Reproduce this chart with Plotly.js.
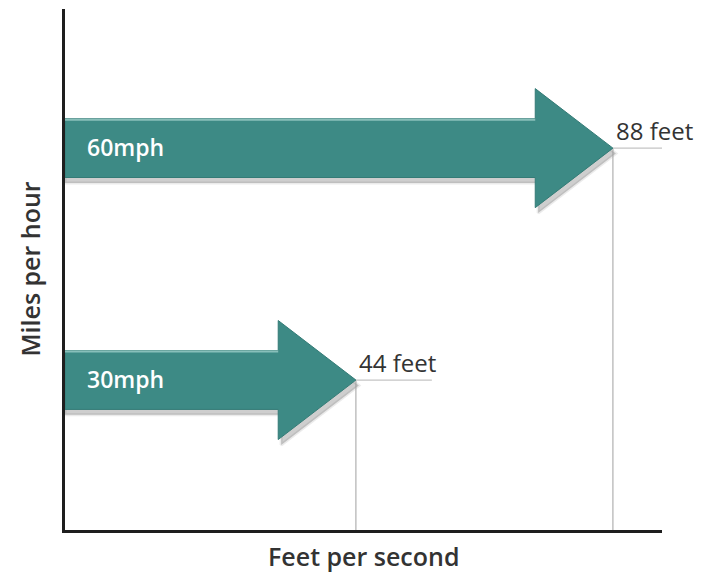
<!DOCTYPE html>
<html>
<head>
<meta charset="utf-8">
<script src="https://cdn.plot.ly/plotly-3.0.1.min.js"></script>
<style>html,body{margin:0;padding:0;background:#fff;}#chart{width:703px;height:573px;}</style>
</head>
<body>
<div id="chart"></div>
<script>
// Data
var speedsMph = [60, 30];
var feetPerSecond = [88, 44];
var speedLabels = ["60mph", "30mph"];
var distanceLabels = ["88 feet", "44 feet"];

// Axis ranges (the reference axes start slightly offset)
var xRange = [-5.8, 96.4];
var yRange = [10.6, 78.0];

// Arrow shape style (in axis units)
var shaftHalf = 3.8, headHalf = 7.7, headLen = 13.3;
var teal = "#3d8a85";
var labelFont = "Open Sans, sans-serif";

var traces = [];
var annotations = [];
var leaderEnd = [102.5, 57];

for (var i = 0; i < speedsMph.length; i++) {
  var y = speedsMph[i], x = feetPerSecond[i], x0 = xRange[0];
  var px = [x0, x - headLen, x - headLen, x, x - headLen, x - headLen, x0, x0];
  var py = [y + shaftHalf, y + shaftHalf, y + headHalf, y, y - headHalf, y - shaftHalf, y - shaftHalf, y + shaftHalf];
  // shadow
  traces.push({
    x: px.map(function(v){ return v === x0 ? x0 : v + 0.5; }),
    y: py.map(function(v){ return v - 0.7; }),
    mode: "lines", fill: "toself", fillcolor: "rgba(60,60,60,0.25)",
    line: {width: 3, color: "rgba(60,60,60,0.10)"}, hoverinfo: "skip", showlegend: false
  });
  // vertical leader
  traces.push({
    x: [x, x], y: [y, yRange[0]], mode: "lines",
    line: {color: "#a0a0a0", width: 1}, hoverinfo: "skip", showlegend: false
  });
  // horizontal leader
  traces.push({
    x: [x, leaderEnd[i]], y: [y, y], mode: "lines", cliponaxis: false,
    line: {color: "#c4c4c4", width: 1.2}, hoverinfo: "skip", showlegend: false
  });
  // arrow
  traces.push({
    x: px, y: py, mode: "lines", fill: "toself", fillcolor: teal,
    line: {width: 1, color: "#347b76"}, name: speedLabels[i],
    hoverinfo: "text", text: speedLabels[i] + " = " + distanceLabels[i] + " per second", showlegend: false
  });
  // highlight on top edge of shaft
  traces.push({
    x: [x0, x - headLen], y: [y + shaftHalf - 0.12, y + shaftHalf - 0.12], mode: "lines",
    line: {color: "rgba(170,215,210,0.7)", width: 2}, hoverinfo: "skip", showlegend: false
  });
  annotations.push({
    x: -2.4, y: y, xref: "x", yref: "y", text: speedLabels[i], showarrow: false,
    xanchor: "left", yanchor: "middle", yshift: 1,
    font: {family: "Open Sans, sans-serif", size: 23, color: "#ffffff", weight: 600}
  });
  annotations.push({
    x: x, y: y, xref: "x", yref: "y", text: distanceLabels[i], showarrow: false,
    xanchor: "left", yanchor: "bottom", xshift: 1, yshift: -1,
    font: {family: labelFont, size: 24, color: "#333333"}
  });
}

// Axis titles
annotations.push({
  x: 0.5, y: 0, xref: "paper", yref: "paper", yshift: -7, text: "Feet per second", showarrow: false,
  xanchor: "center", yanchor: "top",
  font: {family: labelFont, size: 25, color: "#333333", weight: 600}
});
annotations.push({
  x: 0, y: 0.5, xref: "paper", yref: "paper", xshift: -36, text: "Miles per hour", showarrow: false,
  xanchor: "center", yanchor: "middle", textangle: -90,
  font: {family: labelFont, size: 25, color: "#333333", weight: 600}
});

var layout = {
  width: 703, height: 573,
  margin: {l: 65, r: 41, t: 9, b: 43},
  paper_bgcolor: "#ffffff", plot_bgcolor: "#ffffff",
  showlegend: false,
  xaxis: {
    range: xRange, showgrid: false, zeroline: false, showticklabels: false, ticks: "",
    showline: true, linecolor: "#1e1e1e", linewidth: 3, fixedrange: true
  },
  yaxis: {
    range: yRange, showgrid: false, zeroline: false, showticklabels: false, ticks: "",
    showline: true, linecolor: "#1e1e1e", linewidth: 3, fixedrange: true
  },
  annotations: annotations
};

Plotly.newPlot("chart", traces, layout, {displayModeBar: false, staticPlot: true});
</script>
</body>
</html>
